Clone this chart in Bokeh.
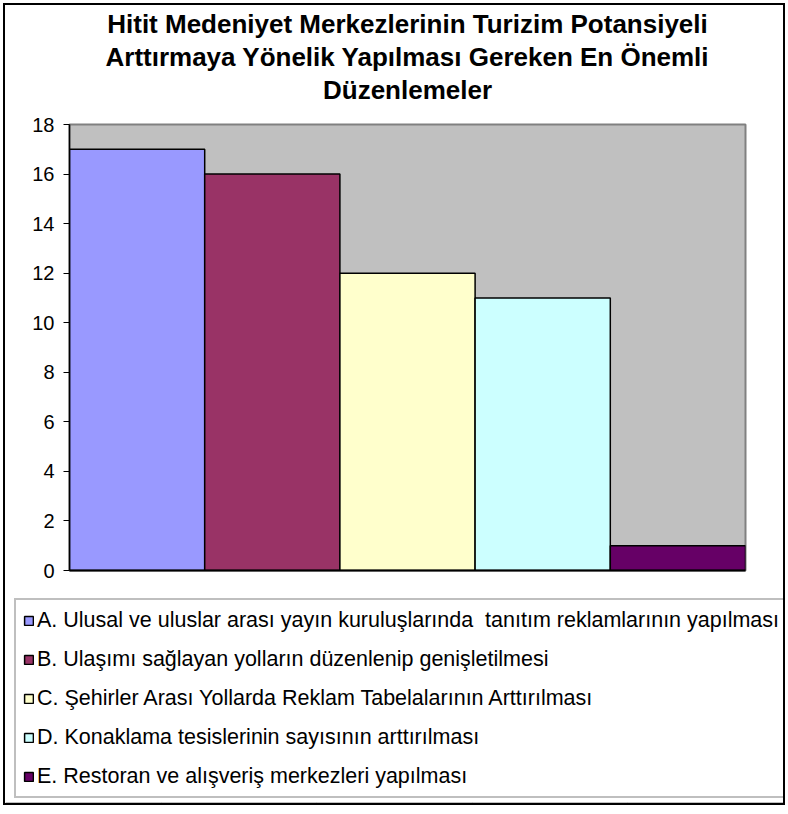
from bokeh.plotting import figure
from bokeh.layouts import column
from bokeh.models import (ColumnDataSource, Range1d, FixedTicker, Legend, LegendItem, Title)
from bokeh.embed import file_html
from bokeh.resources import INLINE

title_lines = ["Hitit Medeniyet Merkezlerinin Turizim Potansiyeli",
               "Arttırmaya Yönelik Yapılması Gereken En Önemli",
               "Düzenlemeler"]
categories = ["A. Ulusal ve uluslar arası yayın kuruluşlarında  tanıtım reklamlarının yapılması",
              "B. Ulaşımı sağlayan yolların düzenlenip genişletilmesi",
              "C. Şehirler Arası Yollarda Reklam Tabelalarının Arttırılması",
              "D. Konaklama tesislerinin sayısının arttırılması",
              "E. Restoran ve alışveriş merkezleri yapılması"]
values = [17, 16, 12, 11, 1]
colors = ["#9999FF", "#993366", "#FFFFCC", "#CCFFFF", "#660066"]
y_ticks = [0, 2, 4, 6, 8, 10, 12, 14, 16, 18]

FONT = "Liberation Sans"

src = ColumnDataSource(dict(x=[i + 0.5 for i in range(len(values))], top=values,
                            color=colors, label=categories))

# ---- chart figure ----
p = figure(width=778, height=590, output_backend="svg", toolbar_location=None,
           x_range=Range1d(0, len(values)), y_range=Range1d(0, 18),
           min_border_left=64, min_border_right=38, min_border_top=119,
           min_border_bottom=25)
p.frame_align = False
p.background_fill_color = "#C0C0C0"
p.border_fill_color = "white"
p.outline_line_color = "#808080"
p.outline_line_width = 2
p.grid.visible = False

r = p.vbar(x="x", top="top", width=1, bottom=0, source=src, fill_color="color",
           line_color="black", line_width=1.5)

p.yaxis.ticker = FixedTicker(ticks=y_ticks)
p.yaxis.minor_tick_line_color = None
p.yaxis.major_tick_out = 6
p.yaxis.major_tick_in = 0
p.yaxis.axis_line_color = "black"
p.yaxis.axis_line_width = 1.5
p.yaxis.major_tick_line_color = "black"
p.yaxis.major_label_text_font = FONT
p.yaxis.major_label_text_font_size = "20px"
p.yaxis.major_label_text_color = "black"
p.yaxis.major_label_standoff = 9

p.xaxis.ticker = FixedTicker(ticks=[])
p.xaxis.minor_tick_line_color = None
p.xaxis.major_tick_line_color = None
p.xaxis.major_label_text_font_size = "0px"
p.xaxis.axis_line_color = "black"
p.xaxis.axis_line_width = 2

# spacer between the title block and the plot frame
p.add_layout(Title(text=" ", text_font=FONT, text_font_size="15px", standoff=0), "above")
for line in reversed(title_lines):
    p.add_layout(Title(text=line, align="center", text_font=FONT,
                       text_font_size="26px", text_font_style="bold",
                       text_color="black", standoff=1), "above")

# ---- legend figure ----
q = figure(width=778, height=208, output_backend="svg", toolbar_location=None,
           x_range=Range1d(0, len(values)), y_range=Range1d(100, 101),
           min_border=0, x_axis_location=None, y_axis_location=None)
q.frame_align = False
q.grid.visible = False
q.outline_line_color = None
q.background_fill_color = "white"
q.border_fill_color = "white"
r2 = q.vbar(x="x", top="top", width=1, bottom=0, source=src, fill_color="color",
            line_color="black", line_width=1.5)

items = [LegendItem(label=categories[i], renderers=[r2], index=i) for i in range(len(values))]
legend = Legend(items=items, location=(9, 5), orientation="vertical",
                label_text_font=FONT, label_text_font_size="21.5px",
                label_text_color="black",
                label_height=26, glyph_height=11, glyph_width=11, spacing=13,
                padding=7, margin=0, label_standoff=3,
                border_line_color="#808080", border_line_width=2,
                background_fill_color="white", background_fill_alpha=1)
q.add_layout(legend, "center")

layout = column(p, q, spacing=0,
                styles={"border": "2px solid black", "margin": "3px"})

open("out.html", "w").write(file_html(layout, INLINE))
